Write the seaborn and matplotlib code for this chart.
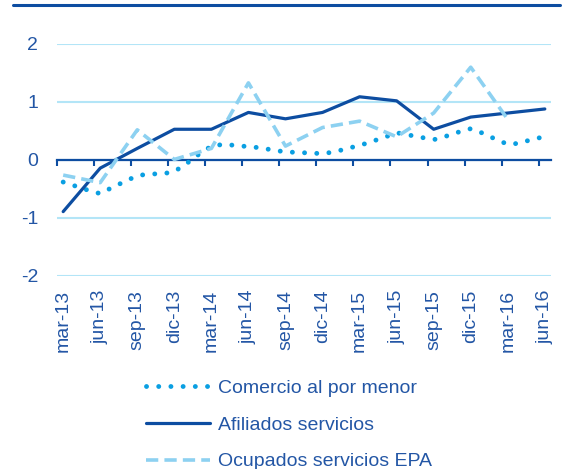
import matplotlib
matplotlib.use('Agg')
import matplotlib.pyplot as plt
from matplotlib.lines import Line2D
import seaborn as sns
import numpy as np

# quarter labels on the x axis (one every 3 months)
tick_labels = ['mar-13', 'jun-13', 'sep-13', 'dic-13', 'mar-14', 'jun-14', 'sep-14',
               'dic-14', 'mar-15', 'jun-15', 'sep-15', 'dic-15', 'mar-16', 'jun-16']
y_ticks = [-2, -1, 0, 1, 2]

# monthly series, mar-13 .. jun-16
comercio = [-0.38, -0.45, -0.52, -0.58, -0.47, -0.37, -0.27, -0.24, -0.24, -0.20,
            -0.06, 0.10, 0.24, 0.27, 0.25, 0.23, 0.21, 0.17, 0.14, 0.13,
            0.12, 0.11, 0.14, 0.20, 0.25, 0.32, 0.39, 0.47, 0.43, 0.39,
            0.35, 0.41, 0.48, 0.54, 0.46, 0.36, 0.27, 0.29, 0.36, 0.40]
# quarterly series, mar-13 .. jun-16
afiliados = [-0.89, -0.14, 0.20, 0.53, 0.53, 0.82, 0.71, 0.82, 1.09, 1.02, 0.53, 0.74, 0.81, 0.88]
# quarterly series, mar-13 .. mar-16
ocupados_epa = [-0.26, -0.39, 0.52, 0.01, 0.20, 1.33, 0.24, 0.56, 0.67, 0.40, 0.81, 1.60, 0.70]

dark = '#0D4DA1'
cyan = '#0A9FE2'
light = '#8DD1F1'
grid = '#B3E5F7'
txt = '#2356A5'

sns.set_style('white')
plt.rcParams['font.family'] = ['Liberation Sans', 'DejaVu Sans']

fig = plt.figure(figsize=(5.65, 4.69), dpi=100)
ax = fig.add_axes([57 / 565, 193 / 469, 494 / 565, 232 / 469])

# points sit in the middle of their month slot
x_com = np.arange(len(comercio)) + 0.5
x_afi = np.arange(len(afiliados)) * 3 + 0.5
x_epa = np.arange(len(ocupados_epa)) * 3 + 0.5

sns.lineplot(x=x_com, y=comercio, ax=ax, color=cyan, linewidth=3.5,
             linestyle=(0, (0.01, 2.5)), dash_capstyle='round', label='Comercio al por menor')
sns.lineplot(x=x_afi, y=afiliados, ax=ax, color=dark, linewidth=2.3,
             label='Afiliados servicios')
sns.lineplot(x=x_epa, y=ocupados_epa, ax=ax, color=light, linewidth=2.6,
             linestyle=(0, (3.4, 1.7)), label='Ocupados servicios EPA')

ax.set_xlim(0, 40)
ax.set_ylim(-2, 2)
ax.set_xlabel('')
ax.set_ylabel('')
for s in ax.spines.values():
    s.set_visible(False)

ax.set_yticks(y_ticks, labels=[str(v) for v in y_ticks])
ax.yaxis.grid(True, color=grid, linewidth=1.5)
ax.set_axisbelow(True)
ax.tick_params(axis='y', length=0, pad=13.5, labelsize=14, labelcolor=txt)

ax.set_xticks(np.arange(0, 40, 3) + 0.5, labels=tick_labels, rotation=90)
ax.tick_params(axis='x', length=0, pad=10, labelsize=14, labelcolor=txt)

# zero axis with tick marks pointing down
zero = ax.secondary_xaxis(0.5)
zero.set_alignment('bottom')
zero.set_zorder(1.5)
zero.set_xticks(np.arange(0, 40, 3))
zero.set_xticklabels([])
zero.tick_params(direction='out', length=4.3, width=1.5, color=dark)
zero.spines['bottom'].set_color(dark)
zero.spines['bottom'].set_linewidth(1.6)

if ax.get_legend() is not None:
    ax.get_legend().remove()
handles, labels = ax.get_legend_handles_labels()
fig.legend(handles, labels, loc='center left', bbox_to_anchor=(146 / 565, 1 - 425 / 469),
           frameon=False, fontsize=14, handlelength=3.3, handletextpad=0.4,
           labelspacing=0.98, borderpad=0, borderaxespad=0, labelcolor=txt)

# rule on top
fig.add_artist(Line2D([13 / 565, 560 / 565], [1 - 5 / 469, 1 - 5 / 469], color=dark, linewidth=2.2))

fig.savefig('out.png', dpi=100)
